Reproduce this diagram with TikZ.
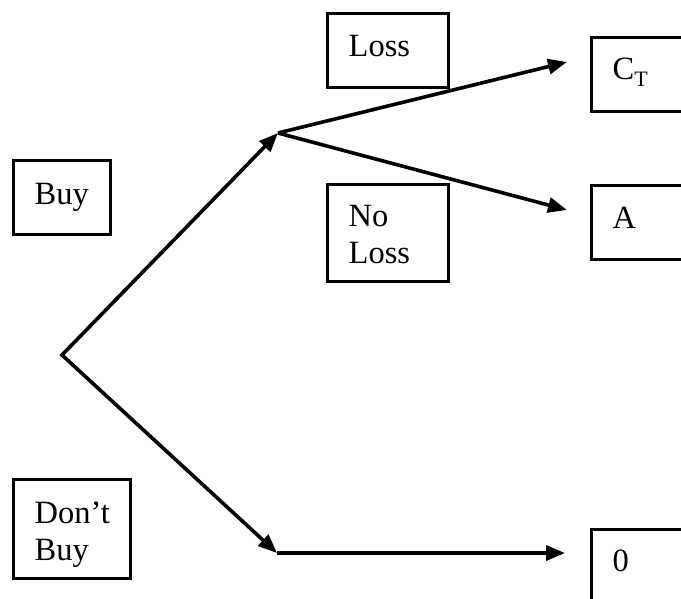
\documentclass[tikz,border=0pt]{standalone}
\usepackage{fontspec}
\setmainfont{Liberation Serif}
\usetikzlibrary{arrows.meta}
\begin{document}
\begin{tikzpicture}[x=1pt,y=-1pt,
  flow/.style={line width=3.6pt,-{Triangle[length=19pt,width=15pt]}},
  twoway/.style={line width=3.6pt,{Triangle[length=19pt,width=15pt]}-{Triangle[length=19pt,width=15pt]}},
  labelbox/.style={draw,line width=3.4pt,rectangle,anchor=north west,
    inner xsep=21pt,inner ysep=0pt,align=left,
    font=\fontsize{32.5}{37}\selectfont}]
\useasboundingbox (0,0) rectangle (681,599);
\clip (0,0) rectangle (681,599);

% decision and outcome labels
\node[labelbox,text width=55pt,text height=44pt,text depth=30pt] (buy) at (12,159) {Buy};
\node[labelbox,text width=75pt,text height=44pt,text depth=55pt] (dontbuy) at (12,478) {Don’t\\Buy};
\node[labelbox,text width=79pt,text height=43pt,text depth=31pt] (loss) at (326,12) {Loss};
\node[labelbox,text width=79pt,text height=42pt,text depth=55pt] (noloss) at (326,183) {No\\Loss};

% payoff boxes, running off the page edge
\node[labelbox,text width=120pt,text height=42pt,text depth=32pt] (ct) at (590,36) {C\raisebox{-7pt}{\fontsize{22}{22}\selectfont T}};
\node[labelbox,text width=120pt,text height=43pt,text depth=31pt] (a) at (590,184) {A};
\node[labelbox,text width=120pt,text height=42pt,text depth=50pt] (zero) at (590,528) {0};

% branch points of the tree
\coordinate (root) at (62,355);
\coordinate (up) at (278,133);
\coordinate (dn) at (277,553);
\coordinate (tipC) at (567,62);
\coordinate (tipA) at (567,210);
\coordinate (tip0) at (565,553);

% branches
\draw[twoway] (up) -- (root) -- (dn);
\draw[flow] (up) -- (tipC);
\draw[flow] (up) -- (tipA);
\draw[flow] (dn) -- (tip0);
\end{tikzpicture}
\end{document}
